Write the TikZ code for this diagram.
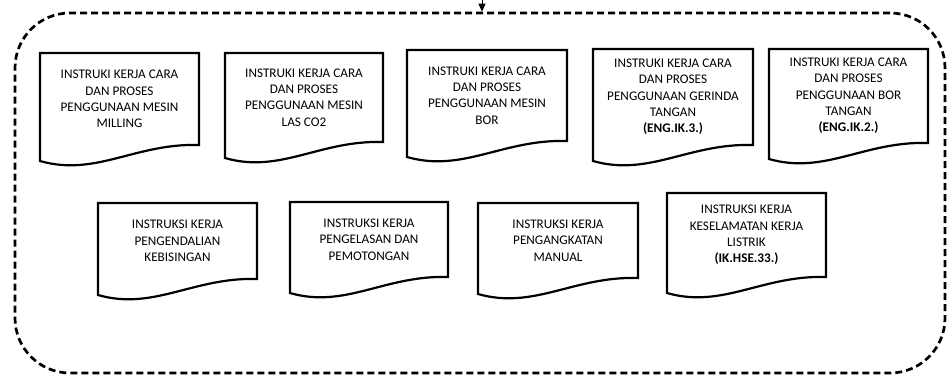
\documentclass[tikz,border=0pt]{standalone}
\usepackage{fontspec}
\setmainfont{Carlito}
\usetikzlibrary{calc,arrows.meta}
\tikzset{
  doctext/.style={inner sep=0pt, outer sep=0pt, align=center, font=\fontsize{13.2}{16.3}\selectfont},
  docline/.style={draw=black, line width=2.2pt, line join=miter},
  framebox/.style={draw=black, line width=2.7pt, dash pattern=on 7pt off 4pt, rounded corners=55pt, inner sep=0pt},
  arrowline/.style={draw=black, line width=1pt, -{Triangle[width=7pt,length=8pt]}}
}
\newcommand\docbox[6]{%
  \node[doctext, minimum width={(#4-#2)*1pt}, minimum height={(#5-#3)*1pt}] (#1) at ({(#2+#4)/2},{(#3+#5)/2}) {#6};
  \draw[docline] (#1.south east) -- (#1.north east) -- (#1.north west) -- ([yshift=-16pt]#1.south west)
    .. controls ($(#1.south west)!0.35!(#1.south east)+(0,-32pt)$) and ($(#1.south west)!0.6!(#1.south east)+(0,2pt)$) .. (#1.south east) -- cycle;
}
\begin{document}
\begin{tikzpicture}[x=1pt,y=-1pt]
\useasboundingbox (0,0) rectangle (947,379);
\node[framebox, minimum width=930pt, minimum height=360pt] (frame) at (480,193) {};
\coordinate (src) at (482,0);
\draw[arrowline] (src) -- (src |- frame.north);
\docbox{d1}{40}{53}{199}{145}{INSTRUKI KERJA CARA\\DAN PROSES\\PENGGUNAAN MESIN\\MILLING}
\docbox{d2}{225}{53}{383}{142}{INSTRUKI KERJA CARA\\DAN PROSES\\PENGGUNAAN MESIN\\LAS CO2}
\docbox{d3}{407}{50}{567}{141}{INSTRUKI KERJA CARA\\DAN PROSES\\PENGGUNAAN MESIN\\BOR}
\docbox{d4}{593}{49}{753}{145}{INSTRUKI KERJA CARA\\DAN PROSES\\PENGGUNAAN GERINDA\\TANGAN\\\textbf{(ENG.IK.3.)}}
\docbox{d5}{769}{49}{928}{143}{INSTRUKI KERJA CARA\\DAN PROSES\\PENGGUNAAN BOR\\TANGAN\\\textbf{(ENG.IK.2.)}}
\docbox{d6}{98}{203}{257}{279}{INSTRUKSI KERJA\\PENGENDALIAN\\KEBISINGAN}
\docbox{d7}{290}{202}{448}{277}{INSTRUKSI KERJA\\PENGELASAN DAN\\PEMOTONGAN}
\docbox{d8}{478}{203}{638}{278}{INSTRUKSI KERJA\\PENGANGKATAN\\MANUAL}
\docbox{d9}{667}{193}{826}{277}{INSTRUKSI KERJA\\KESELAMATAN KERJA\\LISTRIK\\\textbf{(IK.HSE.33.)}}
\end{tikzpicture}
\end{document}
